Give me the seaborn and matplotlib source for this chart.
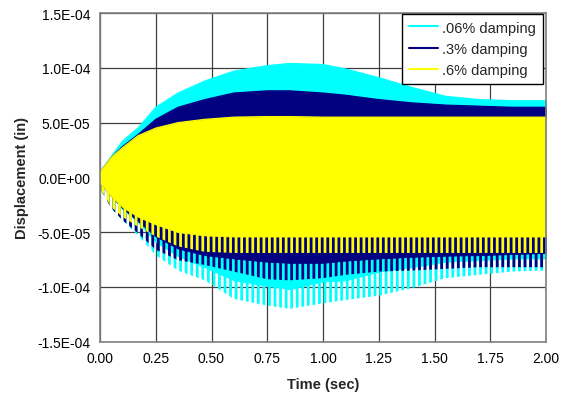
import numpy as np
import pandas as pd
import matplotlib
matplotlib.use("Agg")
import matplotlib.pyplot as plt
import seaborn as sns
from matplotlib.ticker import FuncFormatter
from matplotlib.lines import Line2D

# ---- data (displacement in units of 1e-5 in) ----
time_s = [0.0, 0.05, 0.10, 0.17, 0.25, 0.35, 0.47, 0.60, 0.75, 0.85,
          1.00, 1.10, 1.25, 1.40, 1.55, 1.70, 1.85, 2.00]

series_names = [".06% damping", ".3% damping", ".6% damping"]
series_colors = ["#00FFFF", "#000080", "#FFFF00"]

# upper envelope
cyan_upper = [0.5, 1.9, 3.3, 4.5, 6.4, 7.7, 8.8, 9.7, 10.2, 10.4,
              10.3, 9.9, 9.1, 8.2, 7.4, 7.1, 7.0, 7.0]
navy_upper = [0.5, 1.8, 2.8, 3.9, 5.3, 6.4, 7.1, 7.7, 7.9, 7.9,
              7.7, 7.5, 7.1, 6.8, 6.6, 6.5, 6.4, 6.4]
yellow_upper = [0.5, 1.8, 2.7, 3.8, 4.5, 5.0, 5.3, 5.5, 5.55, 5.55,
                5.5, 5.5, 5.5, 5.5, 5.5, 5.5, 5.5, 5.5]

# lower envelope of the dense (solid) part
cyan_lower = [-0.5, -1.7, -2.9, -4.1, -5.9, -7.2, -8.2, -9.4, -9.9, -10.2,
              -9.5, -9.4, -8.6, -8.2, -7.7, -7.55, -7.4, -7.4]
navy_lower = [-0.5, -1.7, -2.8, -4.0, -5.4, -6.5, -7.1, -7.4, -7.7, -7.8,
              -7.8, -7.6, -7.4, -7.25, -7.15, -7.1, -7.0, -6.9]
yellow_lower = [-0.5, -1.7, -2.7, -3.6, -4.3, -5.0, -5.3, -5.4, -5.4, -5.4,
                -5.4, -5.4, -5.4, -5.4, -5.4, -5.4, -5.4, -5.4]

# lower spike tips
cyan_tip = [-1.0, -2.8, -3.9, -5.3, -7.1, -8.5, -9.4, -11.1, -11.7, -12.0,
            -11.5, -11.2, -10.8, -10.1, -9.2, -8.9, -8.6, -8.5]
navy_tip = [-1.0, -2.8, -3.9, -5.1, -6.6, -7.55, -8.0, -8.6, -9.3, -9.4,
            -9.2, -8.9, -8.6, -8.5, -8.35, -8.2, -8.2, -8.2]
yellow_tip = [-1.0, -2.7, -3.6, -4.5, -5.4, -6.3, -6.8, -6.9, -6.9, -6.9,
              -6.9, -6.9, -6.9, -6.9, -6.9, -6.9, -6.9, -6.9]

x_ticks = [0.00, 0.25, 0.50, 0.75, 1.00, 1.25, 1.50, 1.75, 2.00]
y_ticks = [-1.5e-4, -1.0e-4, -5.0e-5, 0.0, 5.0e-5, 1.0e-4, 1.5e-4]

SCALE = 1e-5

# ---- styling ----
sns.set_style("white")
plt.rcParams["font.family"] = ["Liberation Sans", "DejaVu Sans"]
plt.rcParams["hatch.linewidth"] = 2.0

fig = plt.figure(figsize=(5.63, 4.02), dpi=100)
ax = fig.add_axes([100 / 563, 59.3 / 402, 446 / 563, 328.7 / 402])

uppers = [cyan_upper, navy_upper, yellow_upper]
lowers = [cyan_lower, navy_lower, yellow_lower]
tips = [cyan_tip, navy_tip, yellow_tip]

t = np.array(time_s)
for i, (name, col) in enumerate(zip(series_names, series_colors)):
    up = np.array(uppers[i]) * SCALE
    lo = np.array(lowers[i]) * SCALE
    tp = np.array(tips[i]) * SCALE
    z = 2 + i
    ax.fill_between(t, lo, up, facecolor=col, edgecolor=col, linewidth=0.6,
                    zorder=z)
    ax.fill_between(t, tp, lo, facecolor="none", edgecolor=col, hatch="|||",
                    linewidth=0, zorder=z)

# envelope outline drawn through seaborn
df = pd.DataFrame({
    "t": np.tile(t, 3),
    "disp": np.concatenate([np.array(u) * SCALE for u in uppers]),
    "series": np.repeat(series_names, len(t)),
})
sns.lineplot(data=df, x="t", y="disp", hue="series", hue_order=series_names,
             palette=dict(zip(series_names, series_colors)), estimator=None,
             linewidth=0.8, ax=ax, legend=False)
for i, ln in enumerate(ax.lines[:3]):
    ln.set_zorder(2 + i + 0.5)

ax.set_xlim(0, 2.0)
ax.set_ylim(-1.5e-4, 1.5e-4)
ax.set_xticks(x_ticks)
ax.set_yticks(y_ticks)
ax.xaxis.set_major_formatter(FuncFormatter(lambda v, p: f"{v:.2f}"))
ax.yaxis.set_major_formatter(FuncFormatter(lambda v, p: f"{v:.1E}"))
ax.tick_params(axis="both", direction="out", length=4, width=1,
               color="#000000", labelsize=10, labelcolor="#000000", pad=3)

ax.grid(True, color="#404040", linewidth=0.9)
ax.set_axisbelow(True)
for side in ["left", "bottom", "top", "right"]:
    ax.spines[side].set_visible(True)
    ax.spines[side].set_color("#808080")
    ax.spines[side].set_linewidth(1.2)
    ax.spines[side].set_zorder(10)

ax.set_xlabel("Time (sec)", fontsize=10.5, fontweight="bold", labelpad=8)
ax.set_ylabel("Displacement (in)", fontsize=10.5, fontweight="bold",
              labelpad=6)

handles = [Line2D([0], [0], color=c, linewidth=1.5) for c in series_colors]
leg = ax.legend(handles, series_names, loc="upper right",
                bbox_to_anchor=(0.993, 0.997), borderaxespad=0,
                fontsize=10.5, frameon=True, fancybox=False, shadow=False,
                handlelength=2.0, handletextpad=0.3, labelspacing=0.5,
                borderpad=0.45)
leg.get_frame().set_edgecolor("#000000")
leg.get_frame().set_linewidth(1.0)
leg.get_frame().set_facecolor("white")
leg.get_frame().set_alpha(1)
leg.set_zorder(20)

fig.savefig("out.png", dpi=100)
